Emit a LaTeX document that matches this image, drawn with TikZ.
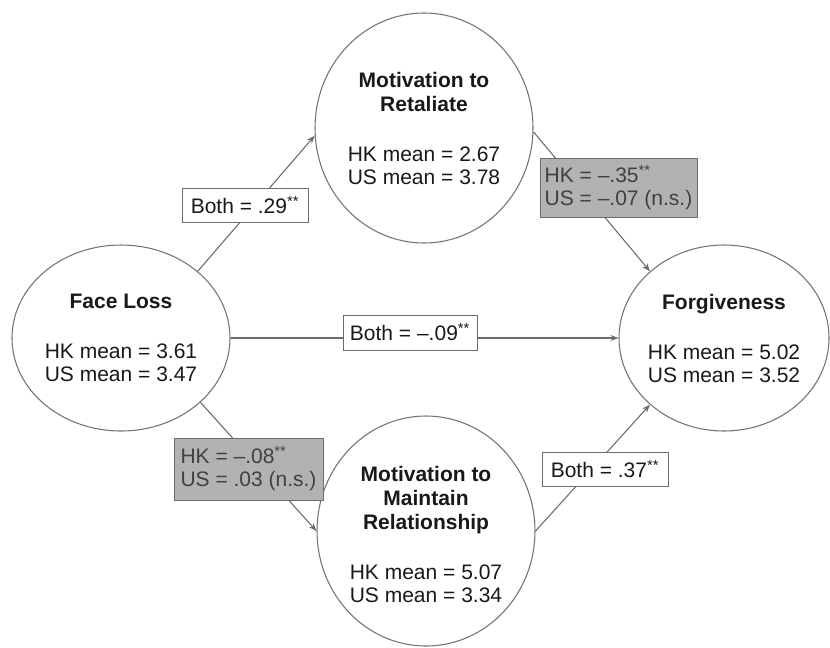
\documentclass[tikz,border=0pt]{standalone}
\usepackage{fontspec}
\setmainfont{Liberation Sans}
\usetikzlibrary{shapes.geometric,arrows.meta}
\definecolor{linegray}{gray}{0.42}
\definecolor{ovalgray}{gray}{0.45}
\definecolor{boxfill}{gray}{0.70}
\definecolor{darktext}{gray}{0.10}
\definecolor{graytext}{gray}{0.25}
\tikzset{
  oval/.style={draw=ovalgray, line width=0.8pt, ellipse, inner sep=0pt, fill=white},
  ovaltext/.style={align=center, text=darktext, font=\fontsize{15.75pt}{17.25pt}\selectfont, inner sep=0pt},
  conn/.style={draw=linegray, line width=0.8pt, -{Stealth[length=6pt,width=4.5pt]}},
  whitebox/.style={draw=linegray, line width=0.7pt, fill=white, text=darktext, font=\fontsize{15.75pt}{17.25pt}\selectfont, inner sep=0pt, align=center},
  graybox/.style={draw=linegray, line width=0.7pt, fill=boxfill, text=graytext, font=\fontsize{15.75pt}{17.25pt}\selectfont, inner sep=0pt, align=left}
}
\newcommand{\stars}{\textsuperscript{**}}
\begin{document}
\begin{tikzpicture}[x=0.75pt,y=-0.75pt]
\useasboundingbox (0,0) rectangle (830,647);
% ellipses
\node[oval, minimum width=163.5pt, minimum height=139.5pt] (fl) at (121,338) {};
\node[oval, minimum width=163.5pt, minimum height=172.5pt] (ret) at (424,128) {};
\node[oval, minimum width=163.5pt, minimum height=172.5pt] (mm) at (426,531) {};
\node[oval, minimum width=157.5pt, minimum height=139.5pt] (fg) at (724,338) {};
% ellipse texts
\node[ovaltext] (fltxt) at (fl.center) {\textbf{Face Loss}\\[20.25pt]HK mean = 3.61\\US mean = 3.47};
\node[ovaltext] (rettxt) at (ret.center) {\textbf{Motivation to}\\[0.75pt]\textbf{Retaliate}\\[20.25pt]HK mean = 2.67\\US mean = 3.78};
\node[ovaltext] (mmtxt) at (426,534) {\textbf{Motivation to}\\[0.75pt]\textbf{Maintain}\\[0.75pt]\textbf{Relationship}\\[20.25pt]HK mean = 5.07\\US mean = 3.34};
\node[ovaltext] (fgtxt) at (fg.center) {\textbf{Forgiveness}\\[20.25pt]HK mean = 5.02\\US mean = 3.52};
% connectors
\draw[conn] (fl.41) -- (ret.184);
\draw[conn] (fl.-39) -- (mm.180);
\draw[conn] (ret.-2) -- (fg.138);
\draw[conn] (mm.0) -- (fg.222);
\draw[conn] (fl.east) -- (fg.west);
% coefficient boxes
\node[whitebox, minimum width=94.5pt, minimum height=25.5pt] (b1) at (245,205) {Both = .29\stars};
\node[graybox, minimum width=117.75pt, minimum height=44.25pt] (b2) at (618.5,187.5) {HK = –.35\stars\\US = –.07 (n.s.)};
\node[whitebox, minimum width=100.5pt, minimum height=26.25pt] (b3) at (410,332.5) {Both = –.09\stars};
\node[graybox, minimum width=111.75pt, minimum height=46.5pt] (b4) at (248.5,469) {HK = –.08\stars\\US = .03 (n.s.)};
\node[whitebox, minimum width=94.5pt, minimum height=25.5pt] (b5) at (605,469) {Both = .37\stars};
\end{tikzpicture}
\end{document}
